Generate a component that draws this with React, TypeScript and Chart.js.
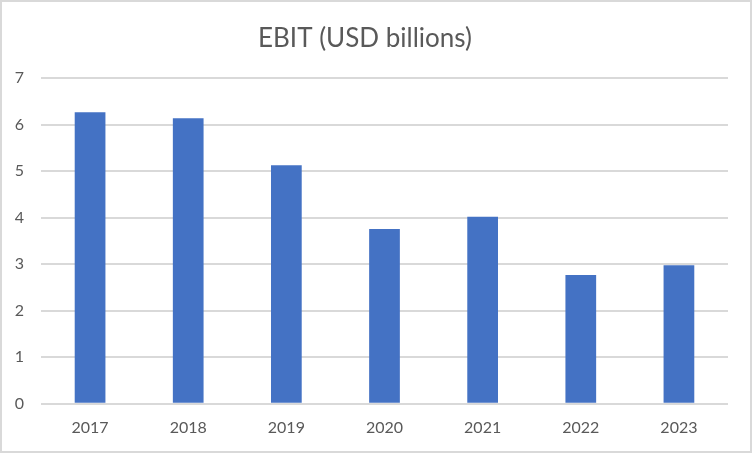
import React, { useEffect, useRef } from "react";
import { Chart, registerables } from "chart.js";

Chart.register(...registerables);

const years = ["2017", "2018", "2019", "2020", "2021", "2022", "2023"];
const ebit = [6.27, 6.14, 5.13, 3.76, 4.02, 2.77, 2.98];
const titleText = "EBIT (USD billions)";

export default function App() {
  const ref = useRef<HTMLCanvasElement | null>(null);

  useEffect(() => {
    const prev = document.body.style.margin;
    document.body.style.margin = "0";
    const ctx = ref.current!;
    const font = "Lato, 'Open Sans', sans-serif";
    const chart = new Chart(ctx, {
      type: "bar",
      data: {
        labels: years,
        datasets: [
          {
            label: "EBIT",
            data: ebit,
            backgroundColor: "#4472C4",
            borderWidth: 0,
            categoryPercentage: 1,
            barPercentage: 0.313,
          },
        ],
      },
      options: {
        animation: false,
        responsive: false,
        maintainAspectRatio: false,
        layout: { padding: { left: 0, right: 22, top: 0, bottom: 0 } },
        plugins: {
          legend: { display: false },
          tooltip: { enabled: false },
          title: {
            display: true,
            text: titleText,
            color: "#595959",
            font: { family: font, size: 26, weight: "normal" },
            padding: { top: 21, bottom: 24 },
          },
        },
        scales: {
          x: {
            grid: { display: false, drawTicks: false },
            border: { display: false },
            ticks: {
              color: "#595959",
              font: { family: font, size: 16 },
              padding: 14,
              maxRotation: 0,
            },
          },
          y: {
            min: 0,
            max: 7,
            grid: { color: "#d9d9d9", lineWidth: 2, drawTicks: false },
            border: { display: false },
            ticks: {
              stepSize: 1,
              color: "#595959",
              font: { family: font, size: 16 },
              padding: 17,
            },
            afterFit: (scale: any) => {
              scale.width = 39;
            },
          },
        },
      },
    });
    return () => {
      chart.destroy();
      document.body.style.margin = prev;
    };
  }, []);

  return (
    <div
      style={{
        position: "absolute",
        left: 0,
        top: 0,
        width: 752,
        height: 453,
        boxSizing: "border-box",
        border: "2px solid #d9d9d9",
        background: "#fff",
      }}
    >
      <canvas ref={ref} width={748} height={449} style={{ display: "block", width: 748, height: 449 }} />
    </div>
  );
}
